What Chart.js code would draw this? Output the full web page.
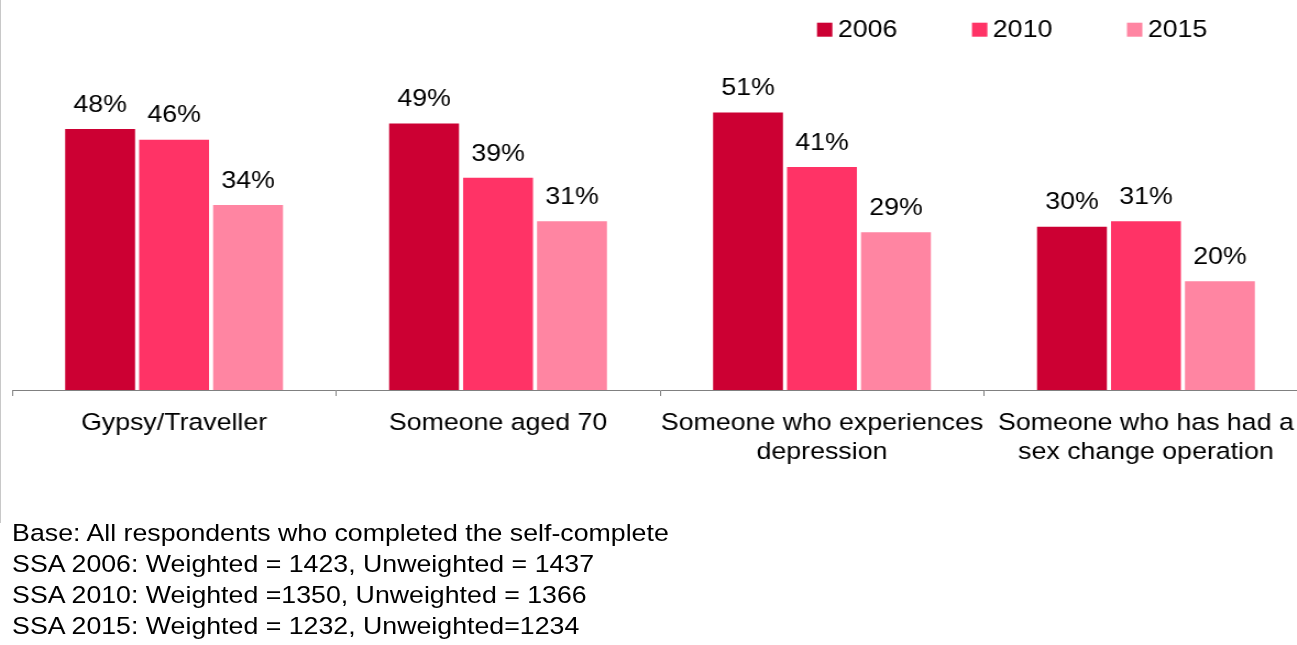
<!DOCTYPE html>
<html>
<head>
<meta charset="utf-8">
<script src="https://cdn.jsdelivr.net/npm/chart.js@4/dist/chart.umd.min.js"></script>
<style>
  html, body { margin: 0; padding: 0; background: #fff; overflow: hidden; width: 1297px; height: 645px; }
  #leftline { position: absolute; left: 0; top: 0; width: 1px; height: 523px; background: #c8c8c8; }
  #wrap { position: absolute; left: 0; top: 0; width: 1192px; height: 645px; transform: scaleX(1.1); transform-origin: 0 0; }
  #c { position: absolute; left: 0; top: 0; }
  #note { position: absolute; left: 11px; top: 517px; font-family: "Liberation Sans", Arial, sans-serif; font-size: 24.3px; line-height: 31px; color: #000; white-space: nowrap; }
</style>
</head>
<body>
<div id="leftline"></div>
<div id="wrap">
  <canvas id="c" width="1192" height="470"></canvas>
  <div id="note">
    Base: All respondents who completed the self-complete<br>
    SSA 2006: Weighted = 1423, Unweighted = 1437<br>
    SSA 2010: Weighted =1350, Unweighted = 1366<br>
    SSA 2015: Weighted = 1232, Unweighted=1234
  </div>
</div>
<script>
const categories = [
  'Gypsy/Traveller',
  'Someone aged 70',
  ['Someone who experiences', 'depression'],
  ['Someone who has had a', 'sex change operation']
];
const seriesNames = ['2006', '2010', '2015'];
const values2006 = [48, 49, 51, 30];
const values2010 = [46, 39, 41, 31];
const values2015 = [34, 31, 29, 20];
const colors = ['#CC0033', '#FF3366', '#FF85A2'];

const FONT = '"Liberation Sans", Arial, sans-serif';
const FSIZE = 24.3;

const labelPlugin = {
  id: 'valueLabels',
  afterDatasetsDraw(chart) {
    const ctx = chart.ctx;
    ctx.save();
    ctx.font = FSIZE + 'px ' + FONT;
    ctx.fillStyle = '#000';
    ctx.textAlign = 'center';
    ctx.textBaseline = 'middle';
    chart.data.datasets.forEach((ds, i) => {
      const meta = chart.getDatasetMeta(i);
      meta.data.forEach((el, j) => {
        ctx.fillText(ds.data[j] + '%', el.x, el.y - 24);
      });
    });
    ctx.restore();
  }
};

const legendPlugin = {
  id: 'customLegend',
  afterDraw(chart) {
    const ctx = chart.ctx;
    ctx.save();
    ctx.font = FSIZE + 'px ' + FONT;
    ctx.textBaseline = 'middle';
    ctx.textAlign = 'left';
    chart.data.datasets.forEach((ds, i) => {
      const x = 742.7 + i * 140.9;
      ctx.fillStyle = ds.backgroundColor;
      ctx.fillRect(x, 22.7, 14, 14);
      ctx.fillStyle = '#000';
      ctx.fillText(ds.label, x + 19, 30);
    });
    ctx.restore();
  }
};

new Chart(document.getElementById('c'), {
  type: 'bar',
  data: {
    labels: categories,
    datasets: [
      { label: seriesNames[0], data: values2006, backgroundColor: colors[0] },
      { label: seriesNames[1], data: values2010, backgroundColor: colors[1] },
      { label: seriesNames[2], data: values2015, backgroundColor: colors[2] }
    ]
  },
  options: {
    responsive: false,
    animation: false,
    devicePixelRatio: 1,
    categoryPercentage: 0.685,
    barPercentage: 0.945,
    layout: { padding: { left: 11, right: 3, top: 63.6, bottom: 0 } },
    plugins: { legend: { display: false }, tooltip: { enabled: false } },
    scales: {
      x: {
        grid: { display: true, drawOnChartArea: false, drawTicks: true, tickLength: 6, color: '#808080', offset: true },
        border: { display: true, color: '#808080', width: 1 },
        ticks: { font: { size: FSIZE, family: FONT, lineHeight: 1.2 }, color: '#000', padding: 13, maxRotation: 0, autoSkip: false },
        afterFit(scale) { scale.height = 80; }
      },
      y: { display: false, min: 0, max: 60 }
    }
  },
  plugins: [labelPlugin, legendPlugin]
});
</script>
</body>
</html>
